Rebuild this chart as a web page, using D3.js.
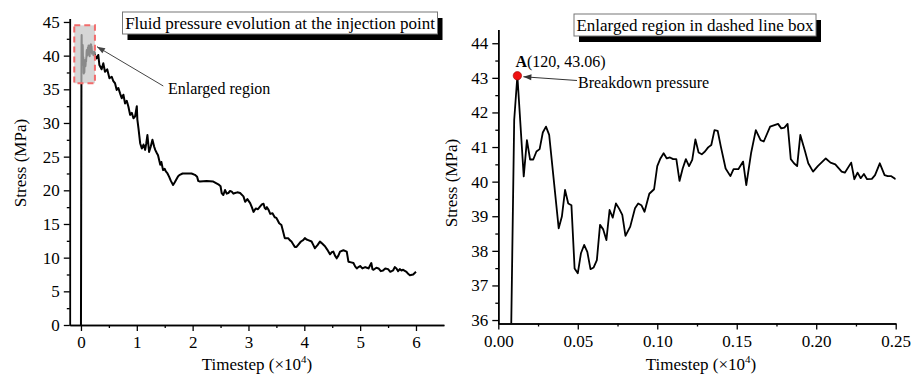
<!DOCTYPE html>
<html><head><meta charset="utf-8">
<script src="https://cdn.jsdelivr.net/npm/d3@7"></script>
<style>html,body{margin:0;padding:0;background:#fff;}svg{display:block;font-family:"Liberation Serif","Times New Roman",serif;}</style>
</head><body>
<svg id="c" width="913" height="374"></svg>
<script>
// ---- data (timestep in units of 10^4, stress in MPa) ----
const timestepEarly = [0,0.008,0.010,0.012,0.016,0.018,0.020,0.022,0.024,0.026,0.028,0.030,0.032,0.038,0.040,0.042,0.044,0.046,0.048,0.050,0.052,0.054,0.056,0.058,0.060,0.062,0.064,0.066,0.068,0.070,0.072,0.074,0.076,0.078,0.080,0.083,0.086,0.088,0.090,0.092,0.095,0.098,0.100,0.102,0.104,0.106,0.108,0.110,0.112,0.114,0.116,0.118,0.120,0.122,0.124,0.126,0.128,0.130,0.132,0.134,0.136,0.138,0.140,0.143,0.146,0.148,0.151,0.154,0.156,0.159,0.162,0.165,0.167,0.171,0.176,0.178,0.180,0.182,0.184,0.186,0.188,0.190,0.193,0.195,0.198,0.201,0.206,0.209,0.212,0.216,0.218,0.222,0.224,0.226,0.228,0.230,0.232,0.235,0.237,0.240,0.243,0.245,0.247,0.250];
const stressEarly = [0,35.4,41.78,43.06,40.15,41.2,40.64,40.64,40.87,40.94,41.42,41.59,41.35,38.65,38.99,39.76,39.37,39.32,37.49,37.35,37.93,38.17,37.97,37.47,37.52,37.73,38.75,38.62,38.31,39.18,38.96,39.37,39.22,39.04,38.43,38.70,39.23,39.37,39.32,39.13,39.65,39.78,40.45,40.67,40.82,40.67,40.70,40.65,40.65,40.02,40.38,40.65,40.45,40.63,41.22,40.84,40.79,40.87,40.99,41.06,41.49,41.47,41.01,40.38,40.16,40.36,40.36,40.58,39.90,40.82,41.49,41.20,41.16,41.59,41.67,41.54,41.56,41.67,40.65,40.53,40.45,41.35,40.87,40.53,40.29,40.45,40.67,40.55,40.50,40.29,40.26,40.55,40.07,40.26,40.10,40.22,40.07,40.08,40.19,40.53,40.19,40.16,40.16,40.07];
const timestepLate = [0.28,0.31,0.33,0.37,0.40,0.43,0.47,0.51,0.55,0.58,0.61,0.64,0.67,0.70,0.73,0.76,0.79,0.82,0.85,0.88,0.91,0.94,0.97,1.00,1.01,1.03,1.06,1.09,1.12,1.15,1.17,1.19,1.22,1.25,1.28,1.31,1.33,1.36,1.38,1.40,1.42,1.44,1.47,1.50,1.52,1.55,1.58,1.61,1.65,1.68,1.70,1.74,1.77,1.82,1.89,1.98,2.04,2.08,2.10,2.13,2.25,2.37,2.46,2.50,2.52,2.55,2.58,2.61,2.64,2.67,2.70,2.73,2.76,2.80,2.85,2.91,2.94,2.98,3.03,3.06,3.09,3.13,3.17,3.21,3.24,3.27,3.29,3.31,3.33,3.36,3.39,3.43,3.47,3.50,3.52,3.55,3.59,3.62,3.65,3.71,3.74,3.77,3.80,3.83,3.86,3.89,3.94,3.98,4.01,4.04,4.07,4.13,4.16,4.19,4.24,4.28,4.32,4.37,4.41,4.46,4.49,4.52,4.55,4.58,4.61,4.64,4.70,4.76,4.79,4.84,4.88,4.91,4.94,4.97,5.00,5.04,5.09,5.12,5.15,5.20,5.22,5.24,5.29,5.33,5.37,5.41,5.45,5.50,5.54,5.59,5.62,5.65,5.68,5.71,5.74,5.77,5.83,5.86,5.89,5.95,6.00];
const stressLate = [39.6,40.1,38.6,37.97,38.87,37.6,37.97,36.64,36.87,36.2,35.9,34.9,35.2,34.4,33.67,34.2,32.9,33.3,32.4,31.2,31.5,30.7,31.0,32.5,30.5,29.2,27.0,26.2,26.8,26.0,27.0,28.2,25.7,26.5,27.5,26.5,26.0,25.5,25.2,24.5,23.8,24.2,23.0,23.2,22.8,22.5,22.0,21.4,20.8,21.2,21.5,22.1,22.3,22.5,22.5,22.5,22.3,22.0,21.4,21.3,21.4,21.3,20.9,20.6,19.6,19.3,20.05,19.5,19.6,19.9,19.8,19.5,19.6,19.7,19.6,19.1,18.3,18.7,18.1,17.5,16.8,17.3,17.2,17.6,17.9,18.0,17.4,17.2,17.5,17.1,16.5,16.6,16.0,15.9,15.6,15.1,14.85,13.9,12.9,12.9,12.6,12.4,12.0,11.6,11.6,11.9,12.4,12.6,12.9,12.7,12.6,12.4,11.9,11.4,11.9,12.4,12.1,11.7,11.2,10.5,10.8,10.9,10.3,9.9,10.3,10.9,11.1,10.9,9.4,9.3,9.2,8.7,8.4,8.6,8.76,8.4,8.6,8.5,8.4,9.2,8.3,8.2,8.5,8.4,8.0,8.1,8.4,8.3,7.9,8.1,8.6,8.4,8.0,8.3,8.1,8.2,7.9,7.6,7.4,7.5,7.9];

const xTicksLeft = [0,1,2,3,4,5,6];
const xMinorLeft = [0.5,1.5,2.5,3.5,4.5,5.5];
const yTicksLeft = [0,5,10,15,20,25,30,35,40,45];
const yMinorLeft = [2.5,7.5,12.5,17.5,22.5,27.5,32.5,37.5,42.5];
const xTicksRight = [0,0.05,0.10,0.15,0.20,0.25];
const xMinorRight = [0.025,0.075,0.125,0.175,0.225];
const yTicksRight = [36,37,38,39,40,41,42,43,44];
const yMinorRight = [36.5,37.5,38.5,39.5,40.5,41.5,42.5,43.5];

const peakPoint = {t: 0.012, s: 43.06, label: "(120, 43.06)"};
const enlargedBox = {t0: -0.12, t1: 0.25, s0: 35.9, s1: 44.5};

const titleLeft = "Fluid pressure evolution at the injection point";
const titleRight = "Enlarged region in dashed line box";

// ---- build ----
const series = timestepEarly.map((t,i)=>({t, s: stressEarly[i]}))
  .concat(timestepLate.map((t,i)=>({t, s: stressLate[i]})));

const svg = d3.select("#c");
const FS = 17;

const xL = d3.scaleLinear([-0.2, 6.5], [69.8, 443.9]);
const yL = d3.scaleLinear([0, 45.5], [325, 18.6]);
const xR = d3.scaleLinear([0, 0.25], [498.3, 895.7]);
const yR = d3.scaleLinear([35.9, 44.4], [323.5, 29.4]);

function styleAxis(g){
  g.selectAll("path.domain").attr("stroke","#000").attr("stroke-width",1.5);
  g.selectAll(".tick line").attr("stroke","#000").attr("stroke-width",1.3);
  g.selectAll("text").attr("font-size",FS).attr("fill","#000").attr("font-family","Liberation Serif, serif");
}
function drawAxes(x, y, xt, xm, yt, ym, xfmt, yfmt){
  const y0 = y.range()[0], x0 = x.range()[0];
  svg.append("g").attr("transform",`translate(0,${y0})`)
    .call(d3.axisBottom(x).tickValues(xm).tickSize(3).tickFormat("").tickSizeOuter(0)).call(styleAxis);
  svg.append("g").attr("transform",`translate(0,${y0})`)
    .call(d3.axisBottom(x).tickValues(xt).tickSize(6).tickPadding(5).tickFormat(xfmt).tickSizeOuter(0)).call(styleAxis);
  svg.append("g").attr("transform",`translate(${x0},0)`)
    .call(d3.axisLeft(y).tickValues(ym).tickSize(3).tickFormat("").tickSizeOuter(0)).call(styleAxis);
  svg.append("g").attr("transform",`translate(${x0},0)`)
    .call(d3.axisLeft(y).tickValues(yt).tickSize(6).tickPadding(4).tickFormat(yfmt).tickSizeOuter(0)).call(styleAxis);
}

// clip paths
const defs = svg.append("defs");
defs.append("clipPath").attr("id","clipR").append("rect")
  .attr("x", xR.range()[0]).attr("y", yR.range()[1])
  .attr("width", xR.range()[1]-xR.range()[0]).attr("height", yR.range()[0]-yR.range()[1]);

// ---- left chart ----
const lineL = d3.line().x(d=>xL(d.t)).y(d=>yL(d.s));
svg.append("path").datum(series).attr("d", lineL)
  .attr("fill","none").attr("stroke","#000").attr("stroke-width",2).attr("stroke-linejoin","round");

// enlarged region overlay box
svg.append("rect")
  .attr("x", xL(enlargedBox.t0)).attr("y", yL(enlargedBox.s1))
  .attr("width", xL(enlargedBox.t1)-xL(enlargedBox.t0)).attr("height", yL(enlargedBox.s0)-yL(enlargedBox.s1))
  .attr("fill","#c4c4c4").attr("fill-opacity",0.7)
  .attr("stroke","#f26b6b").attr("stroke-width",2).attr("stroke-dasharray","6,4");

drawAxes(xL, yL, xTicksLeft, xMinorLeft, yTicksLeft, yMinorLeft, d3.format("d"), d3.format("d"));

// ---- right chart ----
const lineR = d3.line().x(d=>xR(d.t)).y(d=>yR(d.s));
svg.append("path").datum(series.filter(d=>d.t<=0.26)).attr("d", lineR)
  .attr("clip-path","url(#clipR)")
  .attr("fill","none").attr("stroke","#000").attr("stroke-width",1.8).attr("stroke-linejoin","round");

drawAxes(xR, yR, xTicksRight, xMinorRight, yTicksRight, yMinorRight, d3.format(".2f"), d3.format("d"));

// ---- axis titles ----
function xTitle(cx){
  const t = svg.append("text").attr("x",cx).attr("y",370).attr("text-anchor","middle").attr("font-size",FS);
  t.append("tspan").text("Timestep (×10");
  t.append("tspan").attr("font-size",11).attr("dy",-7).text("4");
  t.append("tspan").attr("dy",7).text(")");
}
xTitle(257); xTitle(701);
function yTitle(cx, cy){
  svg.append("text").attr("transform",`translate(${cx},${cy}) rotate(-90)`)
    .attr("text-anchor","middle").attr("font-size",FS).text("Stress (MPa)");
}
yTitle(26, 163); yTitle(457, 183);

// ---- title boxes ----
function titleBox(x, y, w, h, txt){
  svg.append("rect").attr("x",x+5).attr("y",y+6).attr("width",w).attr("height",h).attr("fill","#000");
  svg.append("rect").attr("x",x).attr("y",y).attr("width",w).attr("height",h)
    .attr("fill","#fff").attr("stroke","#777").attr("stroke-width",1);
  svg.append("text").attr("x",x+w/2).attr("y",y+h-5.5).attr("text-anchor","middle")
    .attr("font-size",FS).text(txt);
}
titleBox(122.5, 12, 315, 22, titleLeft);
titleBox(574, 14, 242, 22, titleRight);

// ---- annotations ----
function arrow(x1,y1,x2,y2,color){
  svg.append("line").attr("x1",x1).attr("y1",y1).attr("x2",x2).attr("y2",y2)
    .attr("stroke",color).attr("stroke-width",1);
  const a = Math.atan2(y2-y1, x2-x1), L=8, Wd=3;
  const bx = x2 - L*Math.cos(a), by = y2 - L*Math.sin(a);
  svg.append("path").attr("d",`M${x2},${y2}L${bx - Wd*Math.sin(a)},${by + Wd*Math.cos(a)}L${bx + Wd*Math.sin(a)},${by - Wd*Math.cos(a)}Z`)
    .attr("fill",color);
}
arrow(163.3, 86, 97, 46.7, "#444");
svg.append("text").attr("x",168).attr("y",94).attr("font-size",FS-1).text("Enlarged region");

const px = xR(peakPoint.t), py = yR(peakPoint.s);
arrow(577, 80.5, px+6, py+1, "#333");
svg.append("circle").attr("cx",px).attr("cy",py).attr("r",4.2).attr("fill","#f01010").attr("stroke","#900").attr("stroke-width",0.6);
const lab = svg.append("text").attr("x",px-2).attr("y",py-9).attr("font-size",FS-1);
lab.append("tspan").attr("font-weight","bold").text("A");
lab.append("tspan").text(peakPoint.label);
svg.append("text").attr("x",578).attr("y",88).attr("font-size",FS-1).text("Breakdown pressure");
</script>
</body></html>
